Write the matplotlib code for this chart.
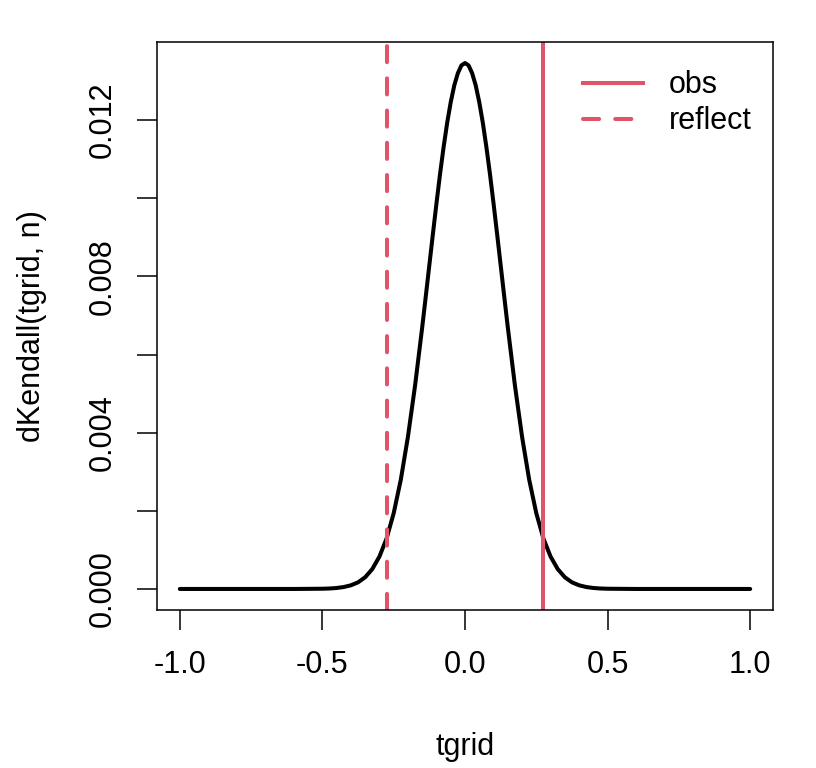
import numpy as np
import matplotlib
matplotlib.use("Agg")
import matplotlib.pyplot as plt

plt.rcParams['font.family'] = ['Liberation Sans', 'DejaVu Sans']

# density values
tgrid = [-1.0, -0.75, -0.6, -0.5, -0.475, -0.45, -0.425, -0.4, -0.375, -0.35, -0.325,
         -0.3, -0.275, -0.25, -0.225, -0.2, -0.175, -0.15, -0.1375, -0.125, -0.1125,
         -0.1, -0.0875, -0.075, -0.0625, -0.05, -0.0375, -0.025, -0.0125, 0.0,
         0.0125, 0.025, 0.0375, 0.05, 0.0625, 0.075, 0.0875, 0.1, 0.1125, 0.125,
         0.1375, 0.15, 0.175, 0.2, 0.225, 0.25, 0.275, 0.3, 0.325, 0.35, 0.375,
         0.4, 0.425, 0.45, 0.475, 0.5, 0.6, 0.75, 1.0]
dens = [0.0, 0.0, 0.0, 0.000006, 0.000012, 0.000025, 0.00005, 0.000094, 0.00017,
        0.0003, 0.00051, 0.00083, 0.00129, 0.00194, 0.0028, 0.0039, 0.00521,
        0.0067, 0.00749, 0.00829, 0.00909, 0.00987, 0.01062, 0.01131, 0.01193,
        0.01246, 0.01289, 0.0132, 0.0134, 0.01346,
        0.0134, 0.0132, 0.01289, 0.01246, 0.01193, 0.01131, 0.01062, 0.00987,
        0.00909, 0.00829, 0.00749, 0.0067, 0.00521, 0.0039, 0.0028, 0.00194,
        0.00129, 0.00083, 0.00051, 0.0003, 0.00017, 0.000094, 0.00005, 0.000025,
        0.000012, 0.000006, 0.0, 0.0, 0.0]
obs = 0.274
reflect = -0.274

red = "#DF536B"
fs = 22

fig = plt.figure(figsize=(8.16, 7.68), dpi=100)
ax = fig.add_axes([157/816, 1 - 610/768, 616/816, 568/768])

ax.plot(tgrid, dens, color="black", lw=2.9, solid_capstyle="round", solid_joinstyle="round")
ax.axvline(obs, color=red, lw=2.9, label="obs")
ax.axvline(reflect, color=red, lw=2.9, ls=(0, (4, 4)), dash_capstyle="round", label="reflect")

M = max(dens)
ax.set_xlim(-1.08, 1.08)
ax.set_ylim(-0.04 * M, 1.04 * M)

ax.set_xticks([-1.0, -0.5, 0.0, 0.5, 1.0])
ax.set_xticklabels(["-1.0", "-0.5", "0.0", "0.5", "1.0"])
yt = [0, 0.002, 0.004, 0.006, 0.008, 0.010, 0.012]
ax.set_yticks(yt)
ax.set_yticklabels(["0.000", "", "0.004", "", "0.008", "", "0.012"], rotation=90, va="center")

ax.tick_params(axis="both", length=14.5, width=1.1, labelsize=fs, direction="out")
ax.tick_params(axis="x", pad=14)
ax.tick_params(axis="y", pad=14)
for s in ax.spines.values():
    s.set_linewidth(1.1)

ax.set_xlabel("tgrid", fontsize=fs, labelpad=38)
ax.set_ylabel("dKendall(tgrid, n)", fontsize=fs, labelpad=29)

ax.legend(loc="upper right", frameon=False, fontsize=fs, handlelength=1.95,
          handletextpad=0.85, labelspacing=0.2, borderaxespad=0.3,
          bbox_to_anchor=(1.0, 0.988))

fig.savefig("out.png", dpi=100)
